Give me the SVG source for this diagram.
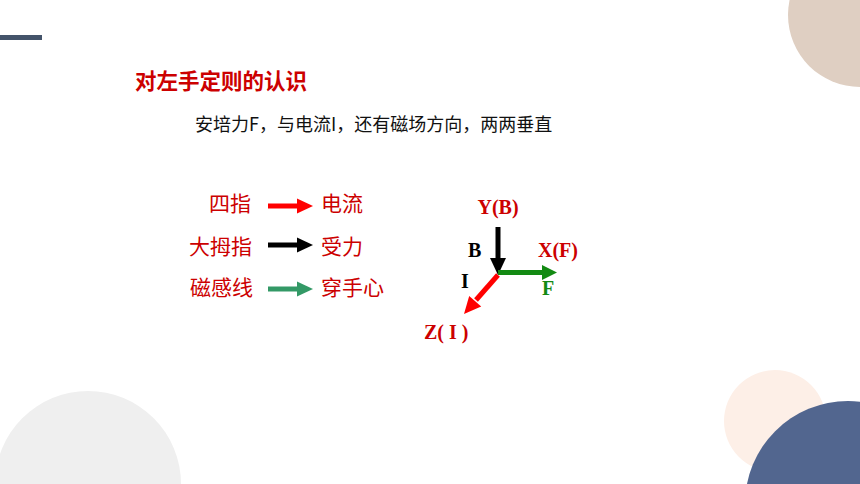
<svg xmlns="http://www.w3.org/2000/svg" width="860" height="484" viewBox="0 0 860 484">
<style>
.cn{font-family:"Noto Sans CJK SC","Noto Sans",sans-serif;}
.red{fill:#cc0000;}
.lbl{font-size:21px;}
.ax{font-family:"Liberation Serif","Times New Roman",serif;font-weight:bold;font-size:20px;}
</style>
<rect width="860" height="484" fill="#ffffff"/>
<g id="decor">
<rect x="0" y="35" width="42" height="5" fill="#44546a"/>
<circle cx="860" cy="15" r="72" fill="#dfcfc2"/>
<circle cx="88" cy="484" r="93" fill="#efefef"/>
<circle cx="775" cy="421" r="51" fill="#fdefe7"/>
<circle cx="848" cy="504" r="103" fill="#52668f"/>
</g>
<g id="title">
<text class="cn red" x="135" y="89" font-size="21.5" font-weight="bold">对左手定则的认识</text>
</g>
<g id="subtitle">
<text class="cn" x="195" y="131" font-size="18" fill="#111">安培力F，与电流I，还有磁场方向，两两垂直</text>
</g>
<g id="left-labels" class="cn red lbl" text-anchor="end">
<text x="251" y="211">四指</text>
<text x="252" y="254">大拇指</text>
<text x="253" y="295">磁感线</text>
</g>
<g id="right-labels" class="cn red lbl">
<text x="321" y="211">电流</text>
<text x="321" y="254">受力</text>
<text x="321" y="295">穿手心</text>
</g>
<g id="connectors">
<line x1="268" y1="206" x2="299" y2="206" stroke="#ff0000" stroke-width="5"/>
<polygon points="297,198.5 313,206 297,213.5" fill="#ff0000"/>
<line x1="268" y1="245" x2="299" y2="245" stroke="#000" stroke-width="5"/>
<polygon points="297,237.5 313,245 297,252.5" fill="#000"/>
<line x1="268" y1="289" x2="299" y2="289" stroke="#339966" stroke-width="5"/>
<polygon points="297,281.5 313,289 297,296.5" fill="#339966"/>
<line x1="498" y1="227" x2="498" y2="260" stroke="#000" stroke-width="5"/>
<polygon points="490,258 506,258 498,275" fill="#000"/>
<line x1="498" y1="272.5" x2="544" y2="272.5" stroke="#138a13" stroke-width="5"/>
<polygon points="542,265 557,272.5 542,280" fill="#138a13"/>
<line x1="498" y1="275" x2="476" y2="300" stroke="#ff0000" stroke-width="5"/>
<polygon points="481.2,306.5 464,314 469.2,295.9" fill="#ff0000"/>
</g>
<g id="axis-labels" class="ax">
<text x="498" y="214" text-anchor="middle" fill="#cc0000">Y(B)</text>
<text x="468" y="257" fill="#000">B</text>
<text x="538" y="257" fill="#cc0000">X(F)</text>
<text x="461" y="288" fill="#000">I</text>
<text x="542" y="295" fill="#138a13">F</text>
<text x="424" y="339" fill="#cc0000">Z( I )</text>
</g>
</svg>
